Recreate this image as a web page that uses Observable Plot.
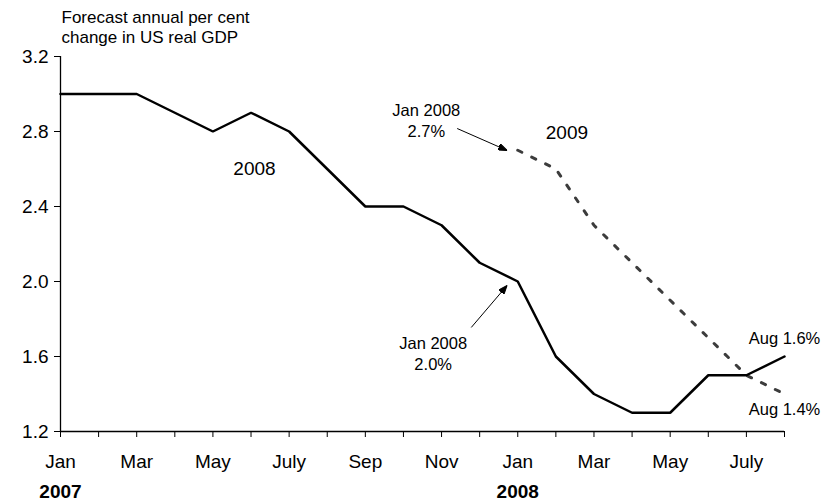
<!DOCTYPE html>
<html>
<head>
<meta charset="utf-8">
<script src="https://cdn.jsdelivr.net/npm/d3@7"></script>
<script src="https://cdn.jsdelivr.net/npm/@observablehq/plot@0.6"></script>
<style>
  html, body { margin: 0; padding: 0; background: #fff; }
  #chart { width: 825px; height: 501px; }
</style>
</head>
<body>
<div id="chart"></div>
<script>
// ---- data ----
const title = "Forecast annual per cent\nchange in US real GDP";
// months from Jan 2007 (index 0) to Aug 2008 (index 19)
const xTickLabels = ["Jan", "Mar", "May", "July", "Sep", "Nov", "Jan", "Mar", "May", "July"];
const yTicks = [1.2, 1.6, 2.0, 2.4, 2.8, 3.2];
const yearLabels = [{m: 0, label: "2007"}, {m: 12, label: "2008"}];
// forecast for 2008 growth, monthly Jan 2007 .. Aug 2008
const forecast2008 = [3.0, 3.0, 3.0, 2.9, 2.8, 2.9, 2.8, 2.6, 2.4, 2.4, 2.3, 2.1, 2.0, 1.6, 1.4, 1.3, 1.3, 1.5, 1.5, 1.6];
// forecast for 2009 growth, monthly Jan 2008 .. Aug 2008
const forecast2009 = [2.7, 2.6, 2.3, 2.1, 1.9, 1.7, 1.5, 1.4];
const start2009 = 12;

const seriesLabels = [{m: 5.09, v: 2.603, text: "2008"}, {m: 13.29, v: 2.792, text: "2009"}];
const notes = [
  {m: 9.6, v: 2.86, text: "Jan 2008\n2.7%"},
  {m: 9.78, v: 1.62, text: "Jan 2008\n2.0%"},
  {m: 19, v: 1.70, text: "Aug 1.6%"},
  {m: 19, v: 1.323, text: "Aug 1.4%"}
];
const arrows = [
  {m1: 10.41, v1: 2.816, m2: 11.72, v2: 2.699},
  {m1: 10.78, v1: 1.755, m2: 11.72, v2: 1.979}
];

const data2008 = forecast2008.map((v, i) => ({m: i, v}));
const data2009 = forecast2009.map((v, i) => ({m: i + start2009, v}));

function filledArrow(color, context) {
  const doc = (context && context.document) || document;
  const ns = "http://www.w3.org/2000/svg";
  const m = doc.createElementNS(ns, "marker");
  m.setAttribute("viewBox", "0 -3.5 9 7");
  m.setAttribute("refX", "9");
  m.setAttribute("refY", "0");
  m.setAttribute("markerUnits", "userSpaceOnUse");
  m.setAttribute("markerWidth", "9");
  m.setAttribute("markerHeight", "7");
  m.setAttribute("orient", "auto");
  const p = doc.createElementNS(ns, "path");
  p.setAttribute("d", "M0,-3.5L9,0L0,3.5Z");
  p.setAttribute("fill", color);
  m.appendChild(p);
  return m;
}

const FONT = "'Liberation Sans', Arial, Helvetica, sans-serif";

function build(marker) {
  return Plot.plot({
    width: 825,
    height: 501,
    marginLeft: 60,
    marginRight: 41,
    marginTop: 56,
    marginBottom: 70,
    x: {domain: [0, 19], axis: null},
    y: {domain: [1.2, 3.2], axis: null},
    style: {fontFamily: FONT, background: "white", color: "black", overflow: "visible"},
    marks: [
      Plot.axisY({ticks: yTicks, tickFormat: d => d.toFixed(1), tickSize: 6, tickPadding: 6, fontSize: 19, label: null, stroke: "black", strokeOpacity: 1}),
      Plot.axisX({ticks: d3.range(0, 20), tickFormat: () => "", tickSize: 6, label: null, stroke: "black", strokeOpacity: 1}),
      Plot.axisX({ticks: d3.range(0, 20, 2), tickFormat: d => xTickLabels[d / 2], tickSize: 0, tickPadding: 23, fontSize: 19, label: null}),
      Plot.ruleX([0], {stroke: "black", strokeWidth: 1.3}),
      Plot.ruleY([1.2], {stroke: "black", strokeWidth: 1.3}),
      Plot.text(yearLabels, {x: "m", text: "label", frameAnchor: "bottom", dy: 60, lineAnchor: "middle", fontWeight: "bold", fontSize: 19}),
      Plot.text([title], {frameAnchor: "top-left", dx: 1, dy: -48, lineAnchor: "top", textAnchor: "start", fontSize: 17, lineHeight: 1.2}),
      Plot.line(data2009, {x: "m", y: "v", stroke: "#3c3c3c", strokeWidth: 3, strokeDasharray: "4.5,11"}),
      Plot.line(data2008, {x: "m", y: "v", stroke: "black", strokeWidth: 2.5, strokeLinejoin: "miter"}),
      Plot.text(seriesLabels, {x: "m", y: "v", text: "text", fontSize: 19}),
      Plot.text(notes, {x: "m", y: "v", text: "text", fontSize: 16.5, lineHeight: 1.27}),
      Plot.link(arrows, {x1: "m1", y1: "v1", x2: "m2", y2: "v2", stroke: "black", strokeWidth: 1, markerEnd: marker})
    ]
  });
}

let chart;
try { chart = build(filledArrow); } catch (e) { chart = build("arrow"); }
document.getElementById("chart").appendChild(chart);
</script>
</body>
</html>
